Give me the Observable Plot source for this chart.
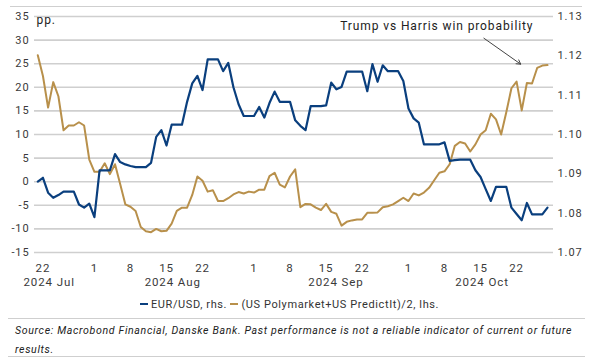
<!DOCTYPE html>
<html>
<head>
<meta charset="utf-8">
<script src="https://cdn.jsdelivr.net/npm/d3@7"></script>
<script src="https://cdn.jsdelivr.net/npm/@observablehq/plot@0.6"></script>
<style>
  body { margin:0; background:#fff; width:590px; height:358px; overflow:hidden; position:relative; font-family: Roboto, sans-serif; }
  #chart { position:absolute; left:0; top:0; }
  .hline { position:absolute; height:0; border-top:1.5px solid #cfcfcf; }
  #legend { position:absolute; left:140px; top:297px; font-size:11px; color:#333; letter-spacing:0.6px; white-space:nowrap; line-height:16px; }
  #legend .sw { display:inline-block; width:8px; height:2.5px; vertical-align:middle; margin-right:3px; margin-top:-2px; }
  #source { position:absolute; left:15px; top:321px; width:562px; font-size:10.6px; font-style:italic; color:#222; line-height:19px; letter-spacing:0.65px; }
</style>
</head>
<body>
<div class="hline" style="left:10px; width:572px; top:6px;"></div>
<div id="chart"></div>
<div id="legend"><span class="sw" style="background:#0a3f7e"></span>EUR/USD, rhs. <span class="sw" style="background:#b8904b"></span>(US Polymarket+US PredictIt)/2, lhs.</div>
<div class="hline" style="left:8px; width:577px; top:318px;"></div>
<div id="source">Source: Macrobond Financial, Danske Bank. Past performance is not a reliable indicator of current or future results.</div>
<div class="hline" style="left:8px; width:577px; top:356px;"></div>
<script>
// ---- data ----
const startDate = "2024-07-21"; // daily series, first observation
const polymarket = [
  26.8, 22.4, 15.7, 21.1, 18.1, 10.9, 11.9, 11.9, 12.6, 11.9,
  4.7, 2.1, 2.1, 3.9, 1.6, 3.7, -0.5, -4.8, -5.3, -6.2,
  -9.6, -10.5, -10.7, -10.0, -10.5, -10.4, -8.9, -6.2, -5.5, -5.5,
  -2.8, 1.1, 0.2, -2.1, -1.8, -4.1, -4.1, -3.5, -2.7, -2.2,
  -2.5, -2.1, -2.3, -1.7, -1.7, 1.2, 1.9, -0.6, -1.2, 1.1,
  2.6, -5.4, -4.7, -4.8, -5.5, -6.0, -4.7, -6.4, -6.8, -9.3,
  -8.5, -8.2, -8.0, -8.0, -6.6, -6.6, -6.5, -5.4, -5.2, -4.8,
  -4.1, -3.4, -4.1, -2.5, -2.9, -2.3, -1.3, 0.3, 1.9, 2.2,
  3.7, 7.6, 8.4, 8.1, 6.4, 7.9, 10.0, 10.9, 14.4, 13.2,
  10.0, 14.7, 19.8, 21.2, 15.1, 20.9, 20.8, 24.1, 24.6, 24.7
];
const eurusd = [
  1.0880, 1.0890, 1.0852, 1.0839, 1.0846, 1.0855, 1.0855, 1.0855, 1.0822, 1.0814,
  1.0824, 1.0790, 1.0909, 1.0909, 1.0909, 1.0950, 1.0930, 1.0924, 1.0920, 1.0917,
  1.0917, 1.0917, 1.0928, 1.0994, 1.1011, 1.0972, 1.1025, 1.1025, 1.1025, 1.1083,
  1.1130, 1.1149, 1.1113, 1.1191, 1.1191, 1.1191, 1.1161, 1.1182, 1.1120, 1.1077,
  1.1047, 1.1047, 1.1047, 1.1070, 1.1043, 1.1080, 1.1109, 1.1083, 1.1083, 1.1083,
  1.1036, 1.1022, 1.1011, 1.1072, 1.1072, 1.1072, 1.1074, 1.1132, 1.1115, 1.1121,
  1.1160, 1.1160, 1.1160, 1.1160, 1.1110, 1.1179, 1.1134, 1.1176, 1.1161, 1.1161,
  1.1161, 1.1136, 1.1066, 1.1041, 1.1030, 1.0975, 1.0975, 1.0975, 1.0975, 1.0980,
  1.0933, 1.0935, 1.0936, 1.0936, 1.0936, 1.0909, 1.0892, 1.0861, 1.0831, 1.0867,
  1.0867, 1.0867, 1.0814, 1.0798, 1.0782, 1.0826, 1.0797, 1.0797, 1.0797, 1.0814
];
const leftTicks = [-15, -10, -5, 0, 5, 10, 15, 20, 25, 30, 35];
const rightTicks = [1.07, 1.08, 1.09, 1.10, 1.11, 1.12, 1.13];
const dayTicks = ["2024-07-22","2024-08-01","2024-08-08","2024-08-15","2024-08-22","2024-09-01","2024-09-08","2024-09-15","2024-09-22","2024-10-01","2024-10-08","2024-10-15","2024-10-22"];
const monthLabels = ["2024 Jul", "2024 Aug", "2024 Sep", "2024 Oct"];
const monthLabelDates = ["2024-07-23T05:00Z", "2024-08-16T05:00Z", "2024-09-16T22:00Z", "2024-10-15T07:00Z"];
const annotationText = "Trump vs Harris win probability";

// ---- build ----
const parse = s => new Date(s.length === 10 ? s + "T00:00Z" : s);
const t0 = parse(startDate);
const DAY = 86400000;
const dates = polymarket.map((_, i) => new Date(+t0 + i * DAY));
const gold = polymarket.map((v, i) => ({date: dates[i], v}));
const blue = eurusd.map((r, i) => ({date: dates[i], r}));
// right axis (1.07..1.13) shares the frame with the left axis (-15..35)
const toLeft = r => (r - 1.07) / 0.06 * 50 - 15;
const toRight = v => 1.07 + (v + 15) / 50 * 0.06;

const xDomain = [new Date(+t0 - 0.64 * DAY), new Date(+dates[dates.length - 1] + 1.17 * DAY)];
const tickDates = dayTicks.map(parse);
const months = monthLabels.map((m, i) => ({date: parse(monthLabelDates[i]), label: m}));

const blueC = "#0a3f7e", goldC = "#b8904b";

const chart = Plot.plot({
  width: 590, height: 292,
  marginTop: 16, marginBottom: 40, marginLeft: 34, marginRight: 37,
  style: {fontFamily: "Roboto, sans-serif", fontSize: "11px", color: "#3a3a3a", background: "transparent", letterSpacing: "0.9px"},
  x: {type: "utc", domain: xDomain, axis: null},
  y: {domain: [-15, 35], axis: null},
  marks: [
    Plot.ruleY(leftTicks, {stroke: "#cfcfcf", strokeWidth: 1.6}),
    Plot.axisY({anchor: "left", label: null, ticks: leftTicks, tickSize: 0, tickPadding: 5, tickFormat: d => String(d), fontSize: 11}),
    Plot.axisY({anchor: "right", label: null, ticks: rightTicks.map(toLeft), tickSize: 0, tickPadding: 4, tickFormat: v => toRight(v).toFixed(2), fontSize: 11}),
    Plot.axisX({label: null, ticks: tickDates, tickSize: 0, tickPadding: 11, tickFormat: d => String(d.getUTCDate()), fontSize: 11.5}),
    Plot.text(months, {x: "date", frameAnchor: "bottom", lineAnchor: "middle", text: "label", dy: 30, fontSize: 11.5, fill: "#3a3a3a"}),
    Plot.line(gold, {x: "date", y: "v", stroke: goldC, strokeWidth: 2}),
    Plot.line(blue, {x: "date", y: d => toLeft(d.r), stroke: blueC, strokeWidth: 2.2}),
    Plot.text(["pp."], {frameAnchor: "top-left", dx: 2, dy: -1, fontSize: 12, fill: "#222", style: "letter-spacing:0"}),
    Plot.text([annotationText], {x: [new Date(+t0 + 77.5 * DAY)], y: [33.0], fontSize: 12, fill: "#222"}),
    Plot.arrow([0], {
      x1: () => new Date(+t0 + 86.65 * DAY), y1: () => 30.4,
      x2: () => new Date(+t0 + 93.8 * DAY), y2: () => 24.9,
      stroke: "#444", strokeWidth: 1, headLength: 7
    })
  ]
});
document.getElementById("chart").appendChild(chart);
</script>
</body>
</html>
